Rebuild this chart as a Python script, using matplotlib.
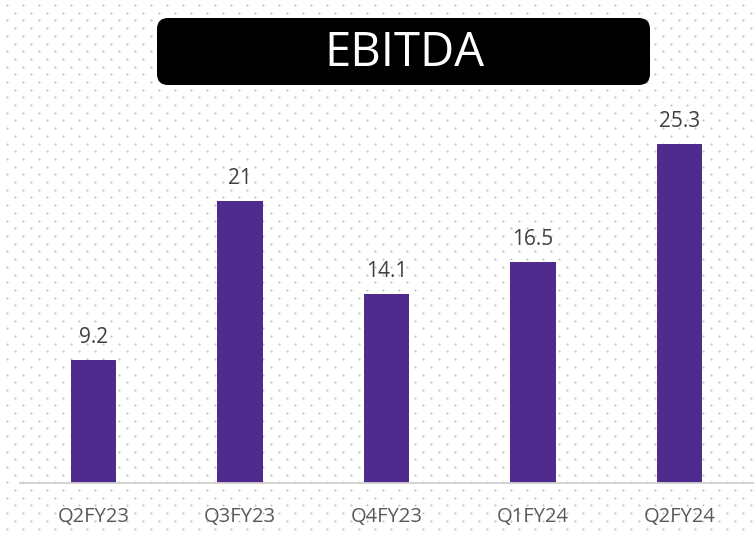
import numpy as np
import matplotlib
matplotlib.use("Agg")
import matplotlib.pyplot as plt
from matplotlib.patches import FancyBboxPatch

quarters = ["Q2FY23", "Q3FY23", "Q4FY23", "Q1FY24", "Q2FY24"]
ebitda = [9.2, 21, 14.1, 16.5, 25.3]
value_labels = ["9.2", "21", "14.1", "16.5", "25.3"]

W, H = 755, 535
plt.rcParams["font.family"] = ["Open Sans", "DejaVu Sans"]

fig = plt.figure(figsize=(W / 100, H / 100), dpi=100)

# dotted background pattern, in pixel space
bg = fig.add_axes([0, 0, 1, 1], zorder=0)
bg.set_xlim(0, W)
bg.set_ylim(H, 0)
bg.axis("off")
xs, ys = [], []
for i, y in enumerate(np.arange(5, H, 7.7)):
    off = 7 if i % 2 == 0 else 15
    row = np.arange(off, W, 16)
    xs.extend(row)
    ys.extend([y] * len(row))
bg.scatter(xs, ys, s=2.4, color="#c4c4c4", linewidths=0)

# title box
box = FancyBboxPatch((157, 18), 493, 67, boxstyle="round,pad=0,rounding_size=11",
                     facecolor="black", edgecolor="none")
bg.add_patch(box)
bg.text(404, 53, "EBITDA", color="white", fontsize=34, ha="center", va="center",
        fontweight="medium")

# bars
ax = fig.add_axes([20 / W, (H - 483) / H, 733 / W, 483 / H], zorder=1)
ax.patch.set_alpha(0)
x = np.arange(len(quarters))
ax.bar(x, ebitda, width=0.31, color="#4E2B8D")
ax.set_xlim(-0.5, len(quarters) - 0.5)
ax.set_ylim(0, 36.0)
for xi, v, lab in zip(x, ebitda, value_labels):
    ax.annotate(lab, (xi, v), xytext=(0, 8.5), textcoords="offset points",
                ha="center", va="bottom", fontsize=15, color="#404040")

for s in ["top", "right", "left"]:
    ax.spines[s].set_visible(False)
ax.spines["bottom"].set_color("#d0d0d0")
ax.spines["bottom"].set_linewidth(1.3)
ax.set_yticks([])
ax.set_xticks(x)
ax.set_xticklabels(quarters, fontsize=14.5, color="#595959")
ax.tick_params(axis="x", length=0, pad=17.5)

fig.savefig("out.png", dpi=100)
